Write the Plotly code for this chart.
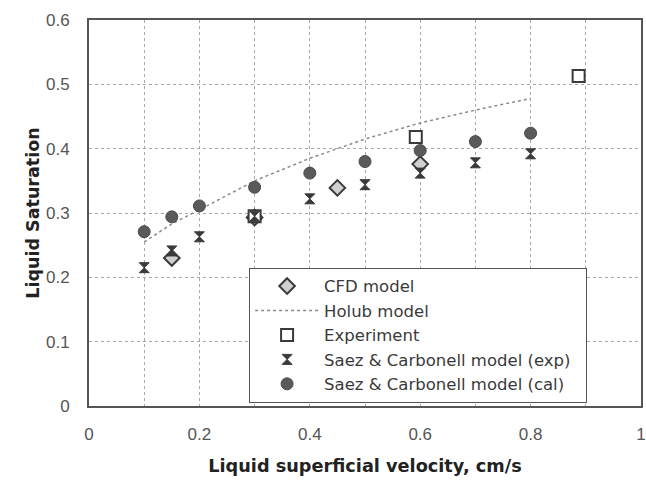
import plotly.graph_objects as go

# ---- data ----
cfd_x = [0.15, 0.30, 0.45, 0.60]
cfd_y = [0.230, 0.293, 0.339, 0.376]

holub_x = [0.10, 0.15, 0.20, 0.30, 0.40, 0.50, 0.60, 0.70, 0.80]
holub_y = [0.255, 0.283, 0.305, 0.350, 0.385, 0.415, 0.440, 0.460, 0.478]

exp_x = [0.30, 0.592, 0.887]
exp_y = [0.295, 0.418, 0.513]

sc_exp_x = [0.10, 0.15, 0.20, 0.30, 0.40, 0.50, 0.60, 0.70, 0.80]
sc_exp_y = [0.215, 0.241, 0.263, 0.295, 0.322, 0.344, 0.362, 0.378, 0.392]

sc_cal_x = [0.10, 0.15, 0.20, 0.30, 0.40, 0.50, 0.60, 0.70, 0.80]
sc_cal_y = [0.271, 0.294, 0.311, 0.340, 0.362, 0.380, 0.397, 0.411, 0.424]

x_ticks = [0, 0.2, 0.4, 0.6, 0.8, 1]
x_tick_labels = ["0", "0.2", "0.4", "0.6", "0.8", "1"]
y_ticks = [0, 0.1, 0.2, 0.3, 0.4, 0.5, 0.6]
y_tick_labels = ["0", "0.1", "0.2", "0.3", "0.4", "0.5", "0.6"]

dark = "#3a3a3a"

fig = go.Figure()
fig.add_trace(go.Scatter(
    x=cfd_x, y=cfd_y, mode="markers", name="CFD model",
    marker=dict(symbol="diamond", size=12, color="#d0d0d0",
                line=dict(color=dark, width=2))))
fig.add_trace(go.Scatter(
    x=holub_x, y=holub_y, mode="lines", name="Holub model",
    line=dict(color="#8a8a8a", width=1.5, dash="dot")))
fig.add_trace(go.Scatter(
    x=exp_x, y=exp_y, mode="markers", name="Experiment",
    marker=dict(symbol="square", size=12, color="white",
                line=dict(color=dark, width=2))))
fig.add_trace(go.Scatter(
    x=sc_exp_x, y=sc_exp_y, mode="markers",
    name="Saez &amp; Carbonell model (exp)\u00a0\u00a0",
    marker=dict(symbol="hourglass", size=10, color=dark,
                line=dict(color=dark, width=1))))
fig.add_trace(go.Scatter(
    x=sc_cal_x, y=sc_cal_y, mode="markers", name="Saez &amp; Carbonell model (cal)",
    marker=dict(symbol="circle", size=12, color="#5a5a5a",
                line=dict(color="#4a4a4a", width=1))))

grid = dict(showgrid=True, gridcolor="#a8a8a8", griddash="dot", gridwidth=1)

fig.update_layout(
    width=646, height=484,
    margin=dict(l=89, r=5, t=20, b=78, autoexpand=False),
    paper_bgcolor="white", plot_bgcolor="white",
    font=dict(family="Liberation Sans, Arial, sans-serif", size=17, color="#555"),
    showlegend=True,
    legend=dict(x=0.29, y=0.358, xanchor="left", yanchor="top",
                bgcolor="white", bordercolor="#555", borderwidth=1,
                font=dict(family="DejaVu Sans, sans-serif", size=16.5, color="#3a3a3a"),
                tracegroupgap=0, itemwidth=64),
    xaxis=dict(range=[0, 1], tickvals=x_ticks, ticktext=x_tick_labels,
               showline=True, linecolor="#555", linewidth=2, mirror=True,
               ticks="", zeroline=False, ticklabelstandoff=12, automargin=False,
               ticklabeloverflow="allow",
               minor=dict(dtick=0.1, showgrid=True, gridcolor="#a8a8a8", griddash="dot"),
               title=dict(text="<b>Liquid superficial velocity, cm/s</b>",
                          font=dict(family="DejaVu Sans, sans-serif", size=17.7, color="#222"),
                          standoff=16),
               **grid),
    yaxis=dict(range=[0, 0.6], tickvals=y_ticks, ticktext=y_tick_labels,
               showline=True, linecolor="#555", linewidth=2, mirror=True,
               ticks="", zeroline=False, ticklabelstandoff=14, automargin=False,
               title=dict(text="<b>Liquid Saturation</b>",
                          font=dict(family="DejaVu Sans, sans-serif", size=17.5, color="#222"),
                          standoff=2),
               **grid),
)

fig.write_html("out.html")
